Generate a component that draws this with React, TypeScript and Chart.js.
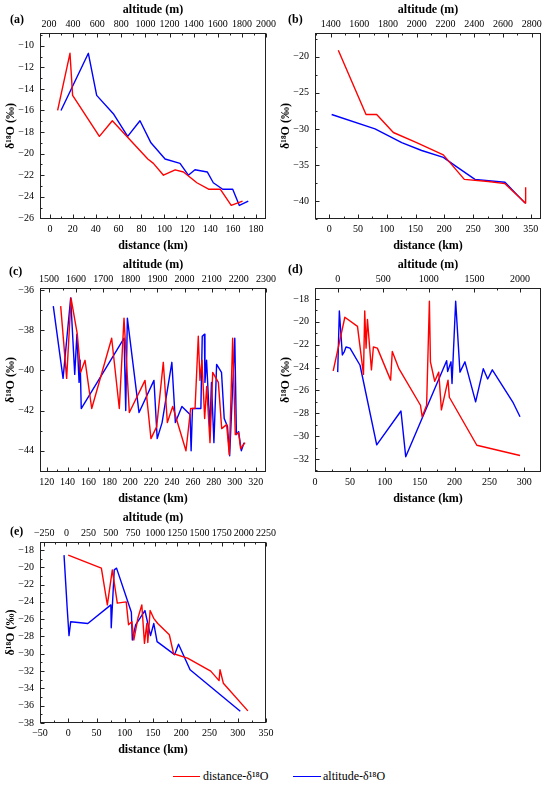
import React, { useEffect, useRef } from 'react'
import Chart from 'chart.js/auto'

const RED = '#ff0000'
const BLUE = '#0000ff'
const FONT = "'Liberation Serif', 'Times New Roman', serif"

// (a)
const aDistKm = [6.7, 17.5, 19.8, 43.2, 54.5, 85.5, 90.4, 99.2, 109.4, 116.7, 128.4, 138.6, 148.8, 158.4, 168.3]
const aDistO18 = [-16.0, -10.7, -14.6, -18.4, -16.95, -20.5, -20.9, -22.0, -21.5, -21.7, -22.7, -23.3, -23.3, -24.8, -24.4]
const aAltM = [300, 527, 596, 734, 853, 955, 1046, 1163, 1287, 1356, 1411, 1513, 1563, 1641, 1724, 1779, 1853]
const aAltO18 = [-16.0, -10.7, -14.6, -16.3, -18.4, -16.95, -19.0, -20.5, -20.9, -22.0, -21.5, -21.7, -22.7, -23.3, -23.3, -24.8, -24.4]
const aKmTicks = [0, 20, 40, 60, 80, 100, 120, 140, 160, 180]
const aAltTicks = [200, 400, 600, 800, 1000, 1200, 1400, 1600, 1800, 2000]
const aO18Ticks = [-26, -24, -22, -20, -18, -16, -14, -12, -10]

// (b)
const bDistKm = [15.6, 63.8, 82.3, 111.3, 151.8, 198.2, 234.7, 276.4, 305.4, 341.3, 341.3]
const bDistO18 = [-19.1, -28.0, -28.0, -30.5, -31.9, -33.6, -37.0, -37.3, -37.6, -40.3, -38.1]
const bAltM = [1407, 1709, 1895, 2034, 2185, 2266, 2405, 2614, 2754]
const bAltO18 = [-28.0, -30.0, -31.9, -33.0, -33.95, -35.1, -37.0, -37.4, -40.3]
const bKmTicks = [0, 50, 100, 150, 200, 250, 300, 350]
const bAltTicks = [1400, 1600, 1800, 2000, 2200, 2400, 2600, 2800]
const bO18Ticks = [-40, -35, -30, -25, -20]

// (c)
const cDistKm = [133.4, 139.1, 143.3, 149.3, 152.5, 156.7, 163.1, 182.2, 189.5, 194.0, 199.1, 214.1, 219.8, 225.3, 231.6, 235.5, 240.6, 253.3, 257.8, 262.0, 265.1, 266.7, 268.6, 271.2, 273.1, 276.3, 278.9, 284.3, 287.5, 292.2, 294.8, 298.0, 300.5, 303.7, 305.6, 309.8]
const cDistO18 = [-36.8, -40.4, -36.4, -38.2, -40.1, -39.5, -41.9, -38.4, -41.9, -37.4, -42.1, -40.5, -43.4, -42.8, -39.6, -42.6, -41.8, -44.0, -41.9, -41.9, -38.3, -40.5, -39.5, -42.4, -40.8, -43.6, -40.1, -40.6, -42.9, -42.7, -44.2, -38.4, -43.2, -43.1, -43.9, -43.6]
const cAltM = [1516, 1552, 1580, 1595, 1603, 1611, 1615, 1619, 1777, 1783, 1789, 1832, 1887, 1899, 1917, 1953, 1966, 1990, 2020, 2024, 2029, 2060, 2065, 2073, 2075, 2081, 2093, 2099, 2108, 2118, 2136, 2146, 2158, 2166, 2185, 2191, 2199, 2209, 2219]
const cAltO18 = [-36.8, -40.4, -36.4, -40.2, -38.2, -40.6, -39.5, -41.9, -38.4, -42.0, -37.4, -42.1, -40.5, -43.4, -42.6, -39.6, -42.6, -41.8, -42.2, -44.0, -41.9, -41.9, -38.3, -38.2, -40.6, -39.5, -42.9, -40.6, -43.6, -39.7, -40.1, -42.4, -42.8, -44.25, -38.4, -43.2, -43.05, -44.0, -43.6]
const cKmTicks = [120, 140, 160, 180, 200, 220, 240, 260, 280, 300, 320]
const cAltTicks = [1500, 1600, 1700, 1800, 1900, 2000, 2100, 2200, 2300]
const cO18Ticks = [-44, -42, -40, -38, -36]

// (d)
const dDistKm = [26.1, 42.8, 60.9, 69.5, 71.3, 73.2, 75.2, 80.9, 83.7, 89.4, 108.4, 110.8, 120.3, 151.2, 153.6, 160.0, 164.0, 165.5, 171.6, 177.4, 181.2, 190.7, 192.6, 232.0, 293.9]
const dDistO18 = [-24.3, -19.6, -20.4, -24.6, -19.05, -22.3, -19.8, -24.2, -22.2, -22.3, -25.1, -22.6, -24.1, -27.3, -28.3, -27.3, -18.2, -23.5, -25.2, -24.4, -27.7, -25.1, -26.6, -30.8, -31.7]
const dAltM = [0, 18, 51, 73, 91, 135, 245, 428, 694, 746, 1195, 1206, 1243, 1254, 1294, 1341, 1396, 1513, 1597, 1645, 1696, 1926, 2000]
const dAltO18 = [-24.4, -19.05, -22.9, -22.6, -22.2, -22.3, -23.8, -30.77, -27.8, -31.8, -23.4, -24.35, -23.5, -25.4, -18.2, -24.4, -23.5, -27.0, -24.1, -25.0, -24.2, -27.1, -28.3]
const dKmTicks = [0, 50, 100, 150, 200, 250, 300]
const dAltTicks = [0, 500, 1000, 1500, 2000]
const dO18Ticks = [-32, -30, -28, -26, -24, -22, -20, -18]

// (e)
const eDistKm = [0, 58.6, 69.2, 78, 86.8, 102.6, 106.7, 112.6, 116.1, 123.2, 130.2, 134.9, 139, 140.8, 144.9, 151.3, 158.4, 178.9, 186.5, 211.1, 252.2, 266.9, 268.6, 274.5, 317.9]
const eDistO18 = [-18.6, -20.1, -24.35, -20.3, -24.15, -24.0, -26.65, -26.3, -28.4, -25.9, -24.35, -28.8, -26.5, -28.7, -25.0, -25.9, -26.5, -27.8, -30.0, -30.5, -32.0, -33.1, -31.85, -33.4, -36.6]
const eAltM = [-27, 5, 7, 29, 48, 241, 501, 505, 539, 565, 732, 743, 780, 885, 948, 985, 1022, 1219, 1264, 1394, 1960]
const eAltO18 = [-18.6, -24.1, -24.5, -27.9, -26.3, -26.5, -24.35, -27.0, -20.3, -20.1, -25.2, -28.4, -26.65, -25.0, -27.9, -26.5, -28.6, -30.1, -28.9, -31.85, -36.65]
const eKmTicks = [-50, 0, 50, 100, 150, 200, 250, 300, 350]
const eAltTicks = [-250, 0, 250, 500, 750, 1000, 1250, 1500, 1750, 2000, 2250]
const eO18Ticks = [-38, -36, -34, -32, -30, -28, -26, -24, -22, -20, -18]

interface PanelSpec {
  label: string
  left: number; top: number; w: number; h: number
  topBox: number; padRight: number
  distKm: number[]; distO18: number[]; altM: number[]; altO18: number[]
  x: [number, number]; xTicks: number[]
  x2: [number, number]; x2Ticks: number[]
  y: [number, number]; yTicks: number[]
}

const panels: PanelSpec[] = [
  { label: '(a)', left: 0, top: 0, w: 285, h: 255, topBox: 33, padRight: 19,
    distKm: aDistKm, distO18: aDistO18, altM: aAltM, altO18: aAltO18,
    x: [-8.7, 188.8], xTicks: aKmTicks, x2: [126, 2000], x2Ticks: aAltTicks, y: [-26.06, -8.82], yTicks: aO18Ticks },
  { label: '(b)', left: 275, top: 0, w: 275, h: 255, topBox: 33, padRight: 9,
    distKm: bDistKm, distO18: bDistO18, altM: bAltM, altO18: bAltO18,
    x: [-24.9, 368], xTicks: bKmTicks, x2: [1291, 2865], x2Ticks: bAltTicks, y: [-42.5, -16.7], yTicks: bO18Ticks },
  { label: '(c)', left: 0, top: 255, w: 285, h: 253, topBox: 33, padRight: 19,
    distKm: cDistKm, distO18: cDistO18, altM: cAltM, altO18: cAltO18,
    x: [113.6, 329.9], xTicks: cKmTicks, x2: [1467, 2300], x2Ticks: cAltTicks, y: [-45.06, -35.9], yTicks: cO18Ticks },
  { label: '(d)', left: 275, top: 255, w: 275, h: 253, topBox: 33, padRight: 9,
    distKm: dDistKm, distO18: dDistO18, altM: dAltM, altO18: dAltO18,
    x: [0, 324], xTicks: dKmTicks, x2: [-249, 2230], x2Ticks: dAltTicks, y: [-33.14, -17.04], yTicks: dO18Ticks },
  { label: '(e)', left: 0, top: 508, w: 285, h: 251, topBox: 34, padRight: 19,
    distKm: eDistKm, distO18: eDistO18, altM: eAltM, altO18: eAltO18,
    x: [-50, 350], xTicks: eKmTicks, x2: [-298, 2250], x2Ticks: eAltTicks, y: [-38, -17.08], yTicks: eO18Ticks },
]

const fmt = (v: number | string) => String(v).replace('-', '\u2212')
const pts = (xs: number[], ys: number[]) => xs.map((x, i) => ({ x, y: ys[i] }))

// frame around the plot area plus inward major/minor ticks
const frameTicks = {
  id: 'frameTicks',
  afterDraw(chart: any) {
    const { ctx, chartArea } = chart
    const L = Math.round(chartArea.left) + 0.5
    const R = Math.round(chartArea.right) - 0.5
    const T = Math.round(chartArea.top) + 0.5
    const B = Math.round(chartArea.bottom) - 0.5
    ctx.save()
    ctx.strokeStyle = '#222'
    ctx.lineWidth = 1
    ctx.strokeRect(L, T, R - L, B - T)
    const side = (id: string, where: 'bottom' | 'top' | 'left') => {
      const s = chart.scales[id]
      const vals: number[] = s.ticks.map((t: any) => t.value)
      const step = vals[1] - vals[0]
      const marks: [number, number][] = []
      vals.forEach((v) => marks.push([v, 4]))
      for (let v = vals[0] - step / 2; v <= s.max; v += step) marks.push([v, 2])
      ctx.beginPath()
      marks.forEach(([v, len]) => {
        if (v < s.min || v > s.max) return
        const p = Math.round(s.getPixelForValue(v)) + 0.5
        if (where === 'bottom') { ctx.moveTo(p, B); ctx.lineTo(p, B - len) }
        else if (where === 'top') { ctx.moveTo(p, T); ctx.lineTo(p, T + len) }
        else { ctx.moveTo(L, p); ctx.lineTo(L + len, p) }
      })
      ctx.stroke()
    }
    side('x', 'bottom')
    side('x2', 'top')
    side('y', 'left')
    ctx.restore()
  },
}

const tickFont = { family: FONT, size: 10 }
const titleFont = { family: FONT, size: 12, weight: 'bold' as const }

function Panel({ spec }: { spec: PanelSpec }) {
  const canvasRef = useRef<HTMLCanvasElement>(null)

  useEffect(() => {
    if (!canvasRef.current) return
    const setTicks = (list: number[]) => (axis: any) => { axis.ticks = list.map((value) => ({ value })) }
    const chart = new Chart(canvasRef.current, {
      type: 'line',
      data: {
        datasets: [
          { label: 'distance-δ¹⁸O', data: pts(spec.distKm, spec.distO18), xAxisID: 'x', yAxisID: 'y',
            borderColor: RED, borderWidth: 1.4, pointRadius: 0, tension: 0, fill: false, borderJoinStyle: 'round' },
          { label: 'altitude-δ¹⁸O', data: pts(spec.altM, spec.altO18), xAxisID: 'x2', yAxisID: 'y',
            borderColor: BLUE, borderWidth: 1.4, pointRadius: 0, tension: 0, fill: false, borderJoinStyle: 'round' },
        ],
      },
      options: {
        responsive: false,
        animation: false,
        layout: { padding: { left: 0, top: 0, bottom: 0, right: spec.padRight } },
        plugins: { legend: { display: false }, tooltip: { enabled: false } },
        scales: {
          x: {
            type: 'linear', position: 'bottom', min: spec.x[0], max: spec.x[1],
            afterBuildTicks: setTicks(spec.xTicks),
            afterFit: (s: any) => { s.height = 36 },
            ticks: { font: tickFont, color: '#000', padding: 4, maxRotation: 0, autoSkip: false, callback: (v: any) => fmt(v) },
            grid: { display: false, drawTicks: false }, border: { display: false },
            title: { display: true, text: 'distance (km)', font: titleFont, color: '#000', padding: { top: 0, bottom: 2 } },
          },
          x2: {
            type: 'linear', position: 'top', min: spec.x2[0], max: spec.x2[1],
            afterBuildTicks: setTicks(spec.x2Ticks),
            afterFit: (s: any) => { s.height = spec.topBox },
            ticks: { font: tickFont, color: '#000', padding: 3, maxRotation: 0, autoSkip: false, callback: (v: any) => fmt(v) },
            grid: { display: false, drawTicks: false }, border: { display: false },
            title: { display: true, text: 'altitude (m)', font: titleFont, color: '#000', padding: { top: 3, bottom: 0 } },
          },
          y: {
            type: 'linear', position: 'left', min: spec.y[0], max: spec.y[1],
            afterBuildTicks: setTicks(spec.yTicks),
            afterFit: (s: any) => { s.width = 40 },
            ticks: { font: tickFont, color: '#000', padding: 6, autoSkip: false, callback: (v: any) => fmt(v) },
            grid: { display: false, drawTicks: false }, border: { display: false },
            title: { display: true, text: 'δ¹⁸O (‰)', font: titleFont, color: '#000', padding: { top: 4, bottom: 0 } },
          },
        },
      },
      plugins: [frameTicks],
    } as any)
    return () => chart.destroy()
  }, [spec])

  return (
    <canvas
      ref={canvasRef}
      width={spec.w}
      height={spec.h}
      style={{ position: 'absolute', left: spec.left, top: spec.top, width: spec.w, height: spec.h }}
    />
  )
}

const labelPos = [
  { left: 10, top: 12 }, { left: 288, top: 12 }, { left: 9, top: 264 }, { left: 288, top: 262 }, { left: 10, top: 524 },
]

export default function App() {
  return (
    <div style={{ position: 'absolute', left: 0, top: 0, width: 550, height: 786, background: '#fff', fontFamily: FONT, overflow: 'hidden' }}>
      {panels.map((p) => <Panel key={p.label} spec={p} />)}
      {panels.map((p, i) => (
        <span key={'l' + p.label} style={{ position: 'absolute', left: labelPos[i].left, top: labelPos[i].top, fontSize: 12, fontWeight: 'bold', lineHeight: '14px' }}>{p.label}</span>
      ))}
      <div style={{ position: 'absolute', left: 173, top: 776, width: 27, borderTop: '1.5px solid ' + RED }} />
      <span style={{ position: 'absolute', left: 203, top: 768, fontSize: 12, lineHeight: '16px' }}>distance-δ¹⁸O</span>
      <div style={{ position: 'absolute', left: 293, top: 776, width: 28, borderTop: '1.5px solid ' + BLUE }} />
      <span style={{ position: 'absolute', left: 323, top: 768, fontSize: 12, lineHeight: '16px' }}>altitude-δ¹⁸O</span>
    </div>
  )
}
